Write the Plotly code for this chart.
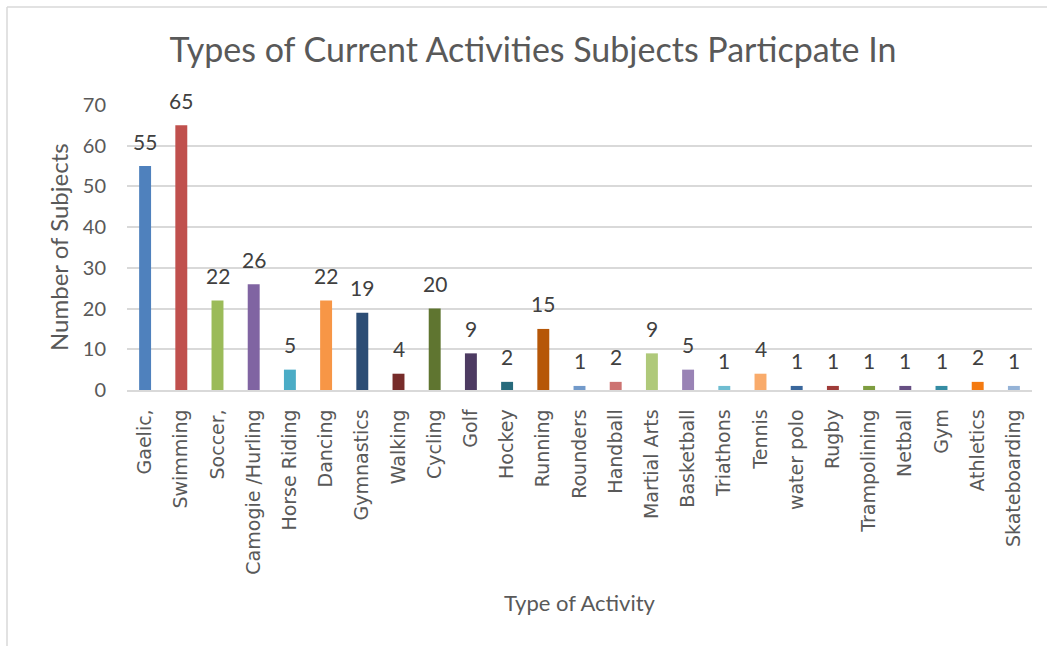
import plotly.graph_objects as go

categories = ["Gaelic,", "Swimming", "Soccer,", "Camogie /Hurling", "Horse Riding", "Dancing",
              "Gymnastics", "Walking", "Cycling", "Golf", "Hockey", "Running", "Rounders",
              "Handball", "Martial Arts", "Basketball", "Triathons", "Tennis", "water polo",
              "Rugby", "Trampolining", "Netball", "Gym", "Athletics", "Skateboarding"]
values = [55, 65, 22, 26, 5, 22, 19, 4, 20, 9, 2, 15, 1, 2, 9, 5, 1, 4, 1, 1, 1, 1, 1, 2, 1]
y_ticks = [0, 10, 20, 30, 40, 50, 60, 70]

bar_colors = ["#4F81BD", "#C0504D", "#9BBB59", "#8064A2", "#4BACC6", "#F79646",
              "#2C4D75", "#772C2A", "#5F7530", "#4D3B62", "#276A7C", "#B65708",
              "#729ACA", "#CD7371", "#AFC97A", "#9983B5", "#6FBDD1", "#F9AB6B",
              "#3A679C", "#9F3B38", "#7E9D40", "#664F83", "#358CA3", "#F47A10", "#95B3D7"]

W, H = 1047, 646
L, R, T, B = 127, 15, 105, 256
pw, ph = W - L - R, H - T - B
font_main = "Lato, 'Open Sans', sans-serif"
grey = "#595959"

fig = go.Figure()
fig.add_trace(go.Bar(x=categories, y=values, marker=dict(color=bar_colors, line=dict(width=0)),
                     width=0.33, showlegend=False))

for c, v in zip(categories, values):
    fig.add_annotation(x=c, y=v, text=str(v), showarrow=False, yanchor="middle", yshift=25,
                       font=dict(family=font_main, size=21, color="#404040"))

def px_x(p):
    return (p - L) / pw

def px_y(p):
    return 1 - (p - T) / ph

line_col = "#D9D9D9"
fig.add_shape(type="line", xref="paper", yref="paper", x0=px_x(7), x1=px_x(W + 5),
              y0=px_y(7), y1=px_y(7), line=dict(color=line_col, width=1.5))
fig.add_shape(type="line", xref="paper", yref="paper", x0=px_x(7), x1=px_x(7),
              y0=px_y(7), y1=px_y(H + 5), line=dict(color=line_col, width=1.5))

fig.add_annotation(xref="paper", yref="paper", x=px_x(580), y=px_y(602), text="Type of Activity",
                   xanchor="center", yanchor="middle",
                   showarrow=False, font=dict(family=font_main, size=22, color=grey))
fig.add_annotation(xref="paper", yref="paper", x=px_x(58), y=px_y(247), text="Number of Subjects",
                   xanchor="center", yanchor="middle",
                   textangle=-90, showarrow=False, font=dict(family=font_main, size=24, color=grey))

fig.update_layout(
    width=W, height=H,
    margin=dict(l=L, r=R, t=T, b=B),
    paper_bgcolor="white", plot_bgcolor="white",
    title=dict(text="Types of Current Activities Subjects Particpate In", x=533 / W, xref="container",
               xanchor="center", y=1 - 50 / H, yref="container", yanchor="middle",
               font=dict(family=font_main, size=34, color=grey)),
    bargap=0.67,
    xaxis=dict(tickangle=-90, tickfont=dict(family="'DejaVu Sans', sans-serif", size=19, color=grey),
               showgrid=False, showline=True, linecolor=line_col, linewidth=1.5,
               ticks="outside", ticklen=10, tickcolor="rgba(0,0,0,0)", zeroline=False,
               range=[-0.5, len(categories) - 0.5]),
    yaxis=dict(range=[0, 70], tickvals=y_ticks, showgrid=True, gridcolor=line_col, gridwidth=1.5,
               tickfont=dict(family=font_main, size=20, color=grey), zeroline=False,
               ticks="outside", ticklen=16, tickcolor="rgba(0,0,0,0)", showline=False),
)

fig.write_html("out.html")
